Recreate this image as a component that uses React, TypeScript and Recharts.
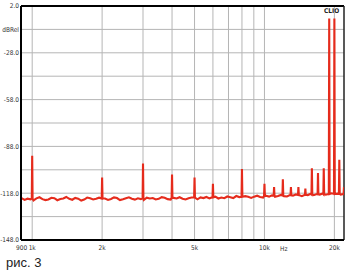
import { CartesianGrid, Line, LineChart, ReferenceLine, XAxis, YAxis } from "recharts"

// noise floor
const noiseFreqs = [
  900, 927, 955, 983, 1013, 1043, 1075, 1107, 1140, 1174, 1210, 1246, 1283, 1322, 1361, 1402, 1444, 1488,
  1532, 1578, 1626, 1674, 1725, 1776, 1830, 1885, 1941, 1999, 2059, 2121, 2185, 2250, 2318, 2387, 2459,
  2533, 2609, 2687, 2768, 2851, 2936, 3024, 3115, 3208, 3305, 3404, 3506, 3611, 3719, 3831, 3946, 4064,
  4186, 4312, 4441, 4574, 4712, 4853, 4999, 5149, 5303, 5462, 5626, 5795, 5969, 6148, 6332, 6522, 6718,
  6919, 7127, 7341, 7561, 7788, 8021, 8262, 8510, 8765, 9028, 9299, 9578, 9865, 10161, 10466, 10780,
  11103, 11436, 11779, 12133, 12497, 12872, 13258, 13656, 14065, 14487, 14922, 15370, 15831, 16306,
  16795, 17299, 17818, 18352, 18903, 19470, 20054, 20656, 21275, 21914,
]
const noiseLevels = [
  -121.2, -122.3, -121.5, -121.9, -122.6, -121.3, -120.6, -121.8, -122.4, -122.0, -120.9, -121.2, -122.5,
  -121.7, -121.4, -120.4, -121.6, -122.2, -121.0, -121.5, -122.7, -122.1, -120.8, -121.3, -122.0, -121.6,
  -120.9, -122.2, -121.4, -122.3, -121.7, -120.7, -121.1, -122.4, -121.9, -121.2, -120.6, -121.5, -122.1,
  -121.3, -121.8, -122.3, -120.9, -121.4, -121.1, -122.0, -121.6, -120.5, -120.9, -121.8, -122.1, -121.0,
  -121.4, -120.6, -121.5, -122.0, -121.2, -120.8, -121.5, -121.9, -120.7, -121.1, -120.4, -121.3, -121.0,
  -120.2, -121.4, -120.8, -121.2, -120.1, -120.6, -121.1, -119.8, -120.5, -120.9, -119.9, -120.3, -121.0,
  -120.2, -119.6, -120.4, -120.8, -119.7, -120.2, -119.4, -120.3, -119.8, -119.1, -119.9, -120.1, -119.2,
  -119.6, -118.8, -119.5, -119.9, -118.7, -119.2, -118.4, -119.3, -118.6, -118.9, -118.2, -119.0, -118.5,
  -118.1, -118.8, -118.3, -118.9, -118.4,
]

// harmonic / IMD spikes
const spikeFreqs = [1000, 2000, 3000, 4000, 5000, 6000, 8000, 10000, 11000, 12000, 13000, 14000, 15000, 16000, 17000, 18000, 19000, 20000, 21000, 22000]
const spikePeaks = [-94, -108, -99, -106, -108, -112, -102.5, -112, -114, -109, -114, -114, -115, -102, -105, -102, -6, -6, -96.5, -114]
const spikeBases = [-121.5, -121.4, -121.3, -121, -120.8, -120.6, -120.3, -119.8, -119.6, -119.5, -119.3, -119.1, -119, -118.8, -118.7, -118.6, -118.5, -118.5, -118.4, -118.5]

const gridFreqs = [1000, 2000, 3000, 4000, 5000, 6000, 7000, 8000, 9000, 10000, 20000]
const xTicks = [900, 1000, 2000, 5000, 10000, 20000]
const xTickLabels = ['900', '1k', '2k', '5k', '10k', '20k']
const yTicks = [2, -13, -28, -43, -58, -73, -88, -103, -118, -133, -148]
const yTickLabels = ['2.0', 'dBRel', '-28.0', '', '-58.0', '', '-88.0', '', '-118.0', '', '-148.0']

const buildData = () => {
  const pts: { f: number; db: number }[] = []
  noiseFreqs.forEach((f, i) => {
    if (spikeFreqs.some(s => Math.abs(f / s - 1) < 0.006)) return
    pts.push({ f, db: noiseLevels[i] })
  })
  spikeFreqs.forEach((s, i) => {
    pts.push({ f: s * 0.996, db: spikeBases[i] })
    pts.push({ f: s, db: spikePeaks[i] })
    pts.push({ f: s * 1.004, db: spikeBases[i] })
  })
  return pts.sort((a, b) => a.f - b.f)
}

const data = buildData()
const font = 'Liberation Sans, Arial, sans-serif'
const narrow = '"Liberation Sans Narrow", "Arial Narrow", "DejaVu Sans Condensed", sans-serif'

const App = () => {
  return (
    <div style={{ position: 'absolute', left: 0, top: 0, width: 350, height: 272, background: '#fff', fontFamily: font }}>
      <LineChart width={350} height={272} data={data} margin={{ top: 6, right: 6, left: 0, bottom: 12 }}>
        <CartesianGrid vertical={false} stroke="#b5b5b5" />
        {gridFreqs.map(g => (
          <ReferenceLine key={g} x={g} stroke="#b5b5b5" />
        ))}
        <XAxis
          dataKey="f"
          type="number"
          scale="log"
          domain={[895, 22000]}
          allowDataOverflow
          ticks={xTicks}
          interval={0}
          tickFormatter={(v: number) => xTickLabels[xTicks.indexOf(v)]}
          height={20}
          tickSize={0}
          tickMargin={5}
          tickLine={false}
          axisLine={{ stroke: '#000', strokeWidth: 2 }}
          tick={{ fontSize: 6.5, fill: '#333', fontFamily: narrow }}
        />
        <YAxis
          type="number"
          domain={[-148, 2]}
          ticks={yTicks}
          interval={0}
          tickFormatter={(v: number) => yTickLabels[yTicks.indexOf(v)]}
          width={21}
          tickSize={0}
          tickMargin={2}
          tickLine={false}
          axisLine={{ stroke: '#000', strokeWidth: 2 }}
          tick={{ fontSize: 6.5, fill: '#333', fontFamily: narrow }}
        />
        <ReferenceLine y={2} stroke="#000" strokeWidth={2} />
        <ReferenceLine x={22000} stroke="#222" strokeWidth={1.5} />
        <Line dataKey="db" stroke="#e52b1c" strokeWidth={2.1} dot={false} isAnimationActive={false} />
      </LineChart>
      <div style={{ position: 'absolute', left: 324, top: 7, fontSize: 6.5, fontWeight: 'bold', color: '#222', fontFamily: narrow }}>CLIO</div>
      <div style={{ position: 'absolute', left: 280, top: 245, fontSize: 6.5, color: '#333', fontFamily: narrow }}>Hz</div>
      <div style={{ position: 'absolute', left: 6, top: 255, fontSize: 13, color: '#222' }}>рис. 3</div>
    </div>
  )
}

export default App
